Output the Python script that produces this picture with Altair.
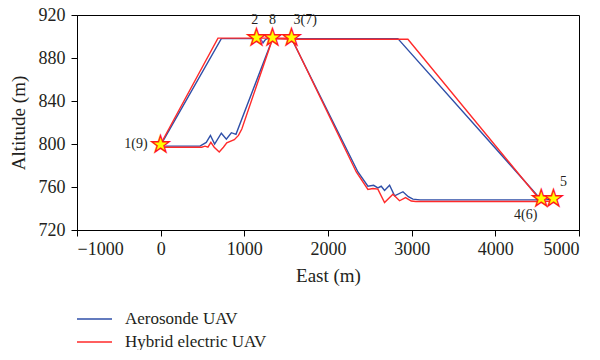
import altair as alt
import pandas as pd

# ---- data ----
series_names = ["Aerosonde UAV", "Hybrid electric UAV"]
series_colors = ["#2f4fa8", "#ff2a2a"]

aero_east = [0, 725, 1147, 1195, 1222, 1250, 1275, 1565, 2358, 2477, 2545, 2596, 2636,
             2676, 2736, 2796, 2896, 2960, 3015, 3100, 4550, 4695, 4550, 2835, 1565,
             1338, 900, 845, 785, 725, 645, 595, 545, 470, 0]
aero_alt = [799, 898, 898, 897.5, 894, 897, 898, 898, 774, 760.7, 761.6, 759.2, 760.7,
            756.8, 761.6, 751.7, 755.6, 751, 748.7, 748, 748, 749, 748, 898, 898,
            898, 809, 810.5, 804.5, 810, 800, 808, 801.5, 798, 798]

hybrid_east = [0, 685, 1147, 1565, 2338, 2477, 2537, 2596, 2676, 2776, 2855, 2927, 2995,
               3050, 4550, 4695, 4550, 2955, 1565, 1338, 970, 930, 880, 790, 750, 700,
               640, 600, 565, 530, 490, 0]
hybrid_alt = [800, 898.5, 898.5, 898.5, 774, 757.7, 758.6, 758, 745.6, 753.2, 747.2, 750.2, 747,
              746.5, 746.5, 747, 746.5, 897.5, 897.5, 898, 814, 808, 804, 801, 797, 792.5,
              797, 801.5, 797, 798, 797, 797]

wp_labels = ["1(9)", "2", "8", "3(7)", "4(6)", "5"]
wp_east = [0, 1147, 1338, 1565, 4550, 4695]
wp_alt = [800, 900, 900, 900, 750, 750]

x_ticks = [-1000, 0, 1000, 2000, 3000, 4000, 5000]
y_ticks = [720, 760, 800, 840, 880, 920]

# ---- tables ----
rows = []
for name, es, als in [(series_names[0], aero_east, aero_alt),
                      (series_names[1], hybrid_east, hybrid_alt)]:
    for i, (e, a) in enumerate(zip(es, als)):
        rows.append({"series": name, "east": e, "alt": a, "order": i})
df = pd.DataFrame(rows)
wp = pd.DataFrame({"label": wp_labels, "east": wp_east, "alt": wp_alt, "star": ["\u2605"] * len(wp_labels)})

FONT = "Liberation Serif"
TXT = "#231f20"

x_scale = alt.Scale(domain=[-1000, 5000], nice=False, zero=False)
y_scale = alt.Scale(domain=[720, 920], nice=False, zero=False)

x_enc = alt.X("east:Q", scale=x_scale, title="East (m)",
              axis=alt.Axis(values=x_ticks, grid=False, tickSize=6, labelPadding=4,
                            format="d",
                            labelFont=FONT, labelFontSize=18, labelColor=TXT,
                            tickColor="black", domainColor="black",
                            titleFont=FONT, titleFontSize=19, titleFontWeight="normal",
                            titleColor=TXT, titlePadding=8))
y_enc = alt.Y("alt:Q", scale=y_scale, title="Altitude (m)",
              axis=alt.Axis(values=y_ticks, grid=False, tickSize=6, labelPadding=6,
                            labelFont=FONT, labelFontSize=18, labelColor=TXT,
                            tickColor="black", domainColor="black",
                            titleFont=FONT, titleFontSize=19, titleFontWeight="normal",
                            titleColor=TXT, titlePadding=10))

color_scale = alt.Scale(domain=series_names, range=series_colors)

lines = alt.Chart(df).mark_line(strokeWidth=1.4).encode(
    x=x_enc, y=y_enc,
    color=alt.Color("series:N", scale=color_scale, legend=None),
    order="order:Q",
)

stars = alt.Chart(wp).mark_text(font="DejaVu Sans", fontSize=23, fill="#ffff00",
                                stroke="#ff1a1a", strokeWidth=1.3,
                                align="center", baseline="middle", dy=1).encode(
    x=alt.X("east:Q", scale=x_scale, title="East (m)"),
    y=alt.Y("alt:Q", scale=y_scale, title="Altitude (m)"),
    text="star:N")

offsets = {
    "1(9)": dict(align="right", dx=-13, dy=0),
    "2": dict(align="center", dx=-2, dy=-17),
    "8": dict(align="center", dx=0, dy=-17),
    "3(7)": dict(align="left", dx=2, dy=-17),
    "4(6)": dict(align="right", dx=-4, dy=17),
    "5": dict(align="center", dx=10, dy=-16),
}
label_layers = []
for lab in wp_labels:
    o = offsets[lab]
    label_layers.append(
        alt.Chart(wp[wp["label"] == lab]).mark_text(
            font=FONT, fontSize=14, color=TXT, baseline="middle", **o).encode(
            x=alt.X("east:Q", scale=x_scale, title="East (m)"),
            y=alt.Y("alt:Q", scale=y_scale, title="Altitude (m)"),
            text="label:N"))

legend_layers = []
for k, (name, col) in enumerate(zip(series_names, series_colors)):
    ly = 304.0 + k * 23.0
    ldf = pd.DataFrame({"series": [name]})
    legend_layers.append(alt.Chart(ldf).mark_rule(color=col, strokeWidth=1.4).encode(
        x=alt.value(0), x2=alt.value(35), y=alt.value(ly)))
    legend_layers.append(alt.Chart(ldf).mark_text(
        font=FONT, fontSize=17, color=TXT, align="left", baseline="middle").encode(
        x=alt.value(48), y=alt.value(ly), text="series:N"))

chart = alt.layer(lines, stars, *label_layers, *legend_layers).properties(
    width=502, height=215,
    autosize=alt.AutoSizeParams(type="none"),
    padding={"left": 69, "top": 7, "right": 13, "bottom": 120},
).configure_view(stroke="black", strokeWidth=1)

chart.save("out.html", embed_options={"renderer": "svg", "actions": False})
